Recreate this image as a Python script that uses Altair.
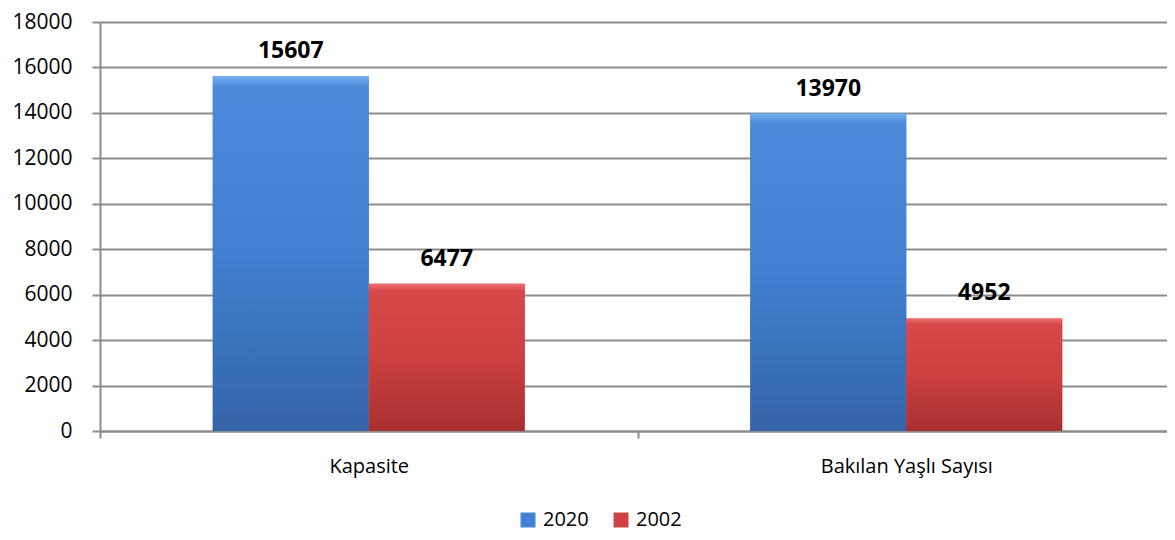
import altair as alt
import pandas as pd

categories = ["Kapasite", "Bakılan Yaşlı Sayısı"]
series = ["2020", "2002"]
values_2020 = [15607, 13970]
values_2002 = [6477, 4952]
y_ticks = [0, 2000, 4000, 6000, 8000, 10000, 12000, 14000, 16000, 18000]

rows = []
for i, c in enumerate(categories):
    rows.append({"cat": c, "series": series[0], "value": values_2020[i]})
    rows.append({"cat": c, "series": series[1], "value": values_2002[i]})
df = pd.DataFrame(rows)

FONT = "Open Sans"
GRID = "#8C8C8C"

grad_blue = alt.LinearGradient(
    gradient="linear", x1=0, y1=0, x2=0, y2=1,
    stops=[
        alt.GradientStop(offset=0, color="#74AEEF"),
        alt.GradientStop(offset=0.03, color="#4A8BDA"),
        alt.GradientStop(offset=0.5, color="#4080D0"),
        alt.GradientStop(offset=1, color="#3464A8"),
    ],
)
grad_red = alt.LinearGradient(
    gradient="linear", x1=0, y1=0, x2=0, y2=1,
    stops=[
        alt.GradientStop(offset=0, color="#EE7070"),
        alt.GradientStop(offset=0.05, color="#D84848"),
        alt.GradientStop(offset=0.5, color="#CC4040"),
        alt.GradientStop(offset=1, color="#A83030"),
    ],
)

x = alt.X(
    "cat:N",
    sort=categories,
    scale=alt.Scale(range=[0, 1075], paddingInner=0, paddingOuter=0),
    axis=alt.Axis(
        title=None, labelAngle=0, labelFont=FONT, labelFontSize=20,
        labelColor="black", tickBand="extent", tickSize=7, tickColor=GRID,
        tickWidth=2, domainColor=GRID, domainWidth=2, labelPadding=18,
        grid=False,
    ),
)
xoff = alt.XOffset(
    "series:N", sort=series,
    scale=alt.Scale(domain=series, paddingInner=0, paddingOuter=0.723),
)
y = alt.Y(
    "value:Q",
    scale=alt.Scale(domain=[0, 18000], nice=False),
    axis=alt.Axis(
        values=y_ticks, format="d", title=None, grid=True, gridColor=GRID,
        gridWidth=2, tickSize=8, tickColor=GRID, tickWidth=2,
        domainColor=GRID, domainWidth=2, labelFont=FONT, labelFontSize=21,
        labelColor="black", labelPadding=20,
    ),
)

base = alt.Chart(df).encode(x=x, xOffset=xoff, y=y)

bars_legend = base.mark_bar().encode(
    color=alt.Color(
        "series:N",
        scale=alt.Scale(domain=series, range=["#4282D3", "#D04343"]),
        legend=alt.Legend(
            title=None, orient="none", legendX=418, legendY=488,
            direction="horizontal", symbolType="square", symbolSize=225,
            symbolStrokeWidth=0, labelFont=FONT, labelFontSize=20,
            labelColor="black", labelOffset=5, columnPadding=22,
        ),
    )
)

bars_grad = base.mark_bar().encode(
    fill=alt.condition("datum.series == '2020'", alt.value(grad_blue), alt.value(grad_red))
)

labels = base.mark_text(
    font=FONT, fontWeight="bold", fontSize=23, dy=-25, baseline="middle", color="black"
).encode(text="value:Q")

chart = (
    alt.layer(bars_legend, bars_grad, labels)
    .properties(
        width=1067,
        height=409,
        autosize=alt.AutoSizeParams(type="none"),
        padding={"left": 92, "top": 14, "right": 0, "bottom": 101},
    )
    .configure_view(stroke=None)
    .configure(background="white")
)

chart.save("out.html", embed_options={"renderer": "svg", "actions": False})
